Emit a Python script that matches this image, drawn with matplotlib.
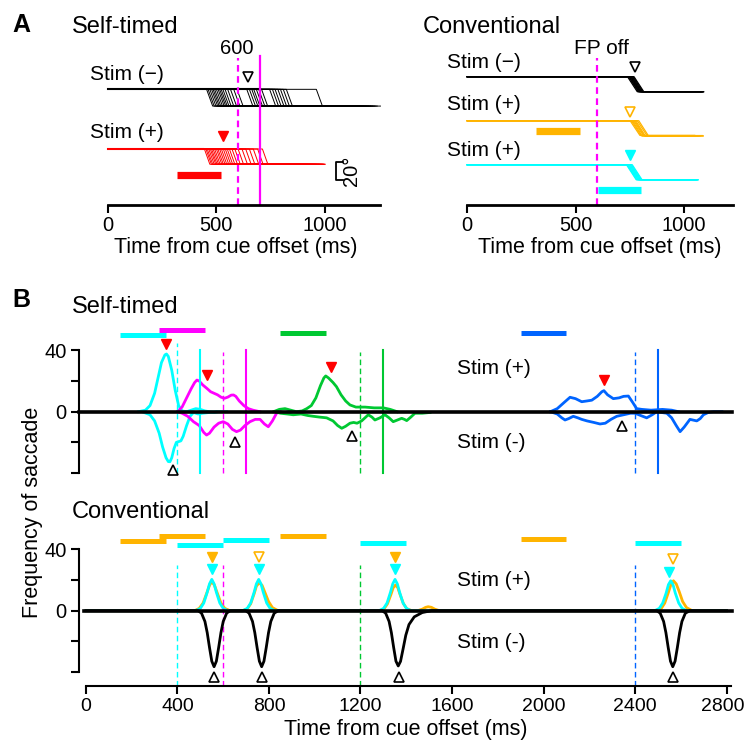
import matplotlib
matplotlib.use("Agg")
import matplotlib.pyplot as plt
from matplotlib.transforms import ScaledTranslation

plt.rcParams['font.family'] = ['Liberation Sans', 'DejaVu Sans']

CYAN = '#00FFFF'
MAG = '#FF00FF'
GREEN = '#00C832'
BLUE = '#0064FF'
ORANGE = '#FFB400'
RED = '#FF0000'

# ---------------- panel A data (saccade onsets / trace ends, ms) ----------------
blk_self_on = [455, 462, 470, 478, 485, 492, 500, 508, 515, 522, 530, 540, 552, 565, 580, 595,
               640, 652, 663, 672, 684, 695, 708, 745, 758, 770, 783, 795, 808, 822, 960]
blk_self_end = [1080, 1100, 1090, 1110, 1120, 1095, 1105, 1115, 1100, 1125, 1110, 1090, 1130, 1115, 1120, 1105,
                1140, 1150, 1125, 1160, 1135, 1145, 1170, 1180, 1200, 1190, 1210, 1220, 1230, 1240, 1255]
red_self_on = [445, 452, 458, 465, 472, 478, 485, 492, 500, 507, 515, 523, 532, 541, 550, 560,
               572, 585, 600, 618, 635, 652, 670, 690, 712]
red_self_end = [820, 840, 860, 835, 880, 900, 870, 910, 930, 890, 950, 920, 960, 940, 975, 985,
                955, 995, 970, 990, 1000, 980, 995, 1000, 990]

blk_conv_on = [740, 745, 748, 752, 755, 758, 762, 766, 770]
blk_conv_end = [1080, 1085, 1090, 1078, 1088, 1092, 1085, 1090, 1083]
org_conv_on = [752, 758, 763, 768, 773, 778, 785, 792]
org_conv_end = [1050, 1060, 1075, 1085, 1090, 1065, 1080, 1088]
org_conv_amp = [16.0, 16.4, 16.8, 16.2, 16.6, 17.0, 16.3, 16.7]
cyn_conv_on = [735, 738, 742, 746, 750, 754, 758, 762]
cyn_conv_end = [1055, 1060, 1065, 1058, 1062, 1066, 1060, 1064]

# ---------------- panel B data: self-timed (frequency of saccade) ----------------
st_cyan_pos_t = [230, 260, 280, 300, 315, 330, 345, 352, 360, 375, 390, 405, 420, 440, 460, 480, 500, 520, 540, 560, 580, 615]
st_cyan_pos_y = [0, 1, 4, 12, 22, 32, 37, 37.6, 36, 27, 14, 4, 0.5, 0, 1, 2, 1.5, 0.5, 0, -0.5, 0, 0]
st_cyan_neg_t = [245, 280, 300, 320, 335, 350, 360, 367, 375, 385, 395, 405, 415, 425, 440, 455, 470, 490, 510, 540, 570]
st_cyan_neg_y = [0, -2, -6, -14, -23, -30, -32.5, -32.6, -30, -24, -20, -19.5, -19, -16, -9, -3, -0.5, -1.5, -1, -0.5, 0]

st_mag_pos_t = [400, 420, 440, 460, 475, 485, 495, 510, 530, 545, 560, 575, 590, 605, 620, 635, 645, 655, 670, 690, 710, 730, 760]
st_mag_pos_y = [0, 3, 9, 15, 19, 20.6, 20, 17.5, 15, 13, 12, 11, 9.5, 8.7, 9.5, 10.8, 10.9, 10, 7, 4, 2, 1, 0]
st_mag_neg_t = [400, 420, 445, 470, 495, 515, 527, 540, 560, 580, 600, 620, 640, 658, 675, 695, 717, 740, 761, 780, 797, 815, 833, 850]
st_mag_neg_y = [0, -1, -3, -6.5, -9, -13.5, -15.2, -14, -10, -7.5, -6.5, -8, -11.5, -13, -12, -9, -6.5, -5, -5, -8, -9.8, -6, -1, 0]

st_grn_pos_t = [820, 845, 870, 895, 920, 945, 965, 985, 1005, 1025, 1040, 1048, 1060, 1080, 1095, 1115, 1135, 1154, 1180, 1220, 1260, 1300, 1330, 1360]
st_grn_pos_y = [0, 1.5, 2, 1, 0, 0.5, 2, 4, 9, 17, 22, 23.3, 22, 19, 16.3, 11, 7, 4.4, 3, 3, 2.5, 2.5, 1.5, 0]
st_grn_neg_t = [826, 850, 880, 906, 940, 970, 994, 1020, 1052, 1080, 1100, 1118, 1135, 1154, 1170, 1185, 1205, 1234,
                1250, 1263, 1285, 1307, 1325, 1343, 1360, 1380, 1392, 1402, 1420, 1438, 1470, 1504]
st_grn_neg_y = [0, -1, -1.5, -2, -1.5, -2.5, -3, -3.5, -4, -6, -9, -10.8, -9.5, -7.5, -7, -7.5, -6, -2,
                -3.5, -5.4, -4, -2, -4, -6.5, -5.5, -4.3, -5, -5.8, -3.5, -1, -1, -0.5]

st_blu_pos_t = [2030, 2060, 2090, 2116, 2140, 2167, 2190, 2211, 2235, 2255, 2264, 2280, 2305, 2330, 2350, 2371, 2390, 2407, 2430, 2470, 2520, 2560, 2590]
st_blu_pos_y = [0, 2, 6, 9.4, 8.5, 6.5, 7, 7.5, 10, 13, 13.7, 11, 8.5, 9, 10, 10.2, 6, 2, 1.5, 1, 1.5, 1, 0]
st_blu_neg_t = [2030, 2060, 2080, 2094, 2110, 2130, 2150, 2167, 2190, 2220, 2247, 2270, 2295, 2320, 2350, 2380, 2400, 2425,
                2451, 2475, 2495, 2515, 2539, 2560, 2580, 2597, 2615, 2640, 2655, 2670, 2685, 2699, 2720, 2743, 2780]
st_blu_neg_y = [0, -1.5, -4, -5.4, -4.5, -3, -4, -5, -6, -7, -8, -7.5, -5, -3, -2, -1, -1, -2.5,
                -4, -2, 0, -0.5, -1, -4, -9, -13, -10, -5, -5.5, -6, -4.5, -2, -0.5, 0, 0]

# ---------------- panel B data: conventional ----------------
cv_cyan_t = [0, 480, 500, 515, 530, 540, 550, 560, 570, 585, 600, 620,
             685, 705, 720, 735, 745, 755, 765, 775, 790, 805, 825,
             1281, 1301, 1316, 1331, 1341, 1351, 1361, 1371, 1386, 1401, 1421,
             2486, 2506, 2521, 2536, 2546, 2556, 2566, 2576, 2591, 2606, 2626, 2800]
cv_cyan_y = [0, 0, 1.5, 5, 12, 17.5, 20.4, 17.5, 12, 5, 1.5, 0,
             0, 1.5, 5, 12, 17.5, 20.4, 17.5, 12, 5, 1.5, 0,
             0, 1.5, 5, 12, 17.5, 20.4, 17.5, 12, 5, 1.5, 0,
             0, 1.5, 5, 11.5, 17, 19.5, 17, 11.5, 5, 1.5, 0, 0]
cv_org_t = [0, 475, 495, 512, 528, 540, 550, 562, 574, 590, 607, 630,
            685, 705, 720, 735, 745, 757, 770, 782, 798, 815, 840,
            1285, 1303, 1318, 1333, 1343, 1353, 1363, 1373, 1388, 1403, 1425,
            1450, 1470, 1485, 1496, 1510, 1525, 1545,
            2495, 2515, 2530, 2545, 2557, 2568, 2580, 2593, 2608, 2625, 2650, 2800]
cv_org_y = [0, 0, 1.5, 5, 11.5, 16.5, 19, 16.5, 11.5, 5, 1.5, 0,
            0, 1.2, 4.5, 11, 16, 18.2, 16.5, 12, 6, 2, 0,
            0, 1.2, 4.5, 10.5, 15, 16.7, 15, 10.5, 4.5, 1.2, 0,
            0, 1, 2.2, 2.6, 2.2, 1, 0,
            0, 1.5, 5, 11.5, 17, 19.5, 17.5, 12.5, 6, 2, 0, 0]
cv_blk_t = [0, 490, 505, 520, 530, 540, 550, 560, 570, 580, 590, 600, 615, 630,
            698, 713, 728, 738, 748, 758, 768, 778, 788, 798, 808, 823, 840,
            1295, 1310, 1325, 1335, 1345, 1355, 1365, 1375, 1386, 1398, 1412, 1435, 1470, 1510,
            2495, 2510, 2525, 2535, 2545, 2555, 2565, 2575, 2585, 2595, 2605, 2620, 2640, 2800]
cv_blk_y = [0, 0, -1.6, -7, -14.3, -24, -32.9, -36.5, -32.9, -24, -14.3, -7, -1.6, 0,
            0, -1.6, -7, -14.3, -24, -32.9, -36.5, -32.9, -24, -14.3, -7, -1.6, 0,
            0, -1.6, -7, -14.3, -24, -32.9, -36, -33, -25, -16, -9, -4, -1.2, 0,
            0, -1.6, -7, -14.3, -24, -32.9, -36.5, -32.9, -24, -14.3, -7, -1.6, 0, 0]

# ---------------- figure helpers (pixel layout) ----------------
W, H = 746, 740
fig = plt.figure(figsize=(W / 100, H / 100), dpi=100)


def add_ax(l, t, r, b):
    return fig.add_axes([l / W, 1 - b / H, (r - l) / W, (b - t) / H])


def ftext(x, y, s, **kw):
    kw.setdefault('va', 'center')
    fig.text(x / W, 1 - y / H, s, **kw)


def style_a(ax, right_bound):
    for s in ['top', 'right', 'left']:
        ax.spines[s].set_visible(False)
    ax.spines['bottom'].set_linewidth(2)
    ax.spines['bottom'].set_bounds(0, right_bound)
    ax.set_xticks([0, 500, 1000])
    ax.set_yticks([])
    ax.tick_params(axis='x', length=6, width=1.5, labelsize=14.5, pad=2)
    ax.set_ylim(0, 180.3)


def traces(ax, onsets, ends, base, amp, color, dur, lw):
    for i, (on, end) in enumerate(zip(onsets, ends)):
        a = amp[i] if isinstance(amp, list) else amp
        ax.plot([0, on, on + dur, end], [base, base, base - a, base - a],
                color=color, lw=lw)


# ---------------- panel A, self-timed ----------------
axL = add_ax(99.0, 40, 383.7, 205)
axL.set_xlim(-40, 1270)
style_a(axL, 1255)
traces(axL, blk_self_on, blk_self_end, 126.4, 18.3, 'black', 28, 0.7)
traces(axL, red_self_on, red_self_end, 61.2, 16.7, RED, 25, 0.7)
axL.plot([0, 700], [126.4, 126.4], color='black', lw=1.5)
axL.plot([0, 440], [61.2, 61.2], color=RED, lw=1.5)
axL.plot([600, 600], [0, 160.7], color=MAG, lw=1.6, ls=(0, (3, 2)))
axL.plot([700, 700], [0, 162.8], color=MAG, lw=1.6)
axL.plot([317, 520], [32.8, 32.8], color=RED, lw=5.2, solid_capstyle='butt')
axL.plot([646], [139.9], marker='v', ms=7, mfc='none', mec='black', mew=1.2)
axL.plot([531], [75.4], marker='v', ms=7, color=RED)
axL.plot([1083, 1051, 1051, 1083], [47.3, 47.3, 27.3, 27.3], color='black', lw=1.3, clip_on=False)
axL.text(1122, 37.3, '20°', rotation=90, ha='center', va='center', fontsize=14.5)

# ---------------- panel A, conventional ----------------
axR = add_ax(458.6, 40, 742.3, 205)
axR.set_xlim(-40, 1270)
style_a(axR, 1225)
traces(axR, blk_conv_on, blk_conv_end, 140.2, 16.4, 'black', 45, 0.9)
traces(axR, org_conv_on, org_conv_end, 92.1, org_conv_amp, ORANGE, 45, 0.9)
traces(axR, cyn_conv_on, cyn_conv_end, 44.0, 16.4, CYAN, 45, 0.9)
axR.plot([600, 600], [0, 160.7], color=MAG, lw=1.6, ls=(0, (3, 2)))
axR.plot([316, 519], [80.9, 80.9], color=ORANGE, lw=5.2, solid_capstyle='butt')
axR.plot([602, 801], [16.4, 16.4], color=CYAN, lw=5.2, solid_capstyle='butt')
axR.plot([773], [151.1], marker='v', ms=7, mfc='none', mec='black', mew=1.2)
axR.plot([753], [102.0], marker='v', ms=7, mfc='none', mec=ORANGE, mew=1.2)
axR.plot([750], [54.6], marker='v', ms=7, color=CYAN)

# ---------------- panel B ----------------
S = 1.535  # px per unit


def style_b(ax, ymin, ymax, bottom):
    ax.set_xlim(-30, 2830)
    ax.set_ylim(ymin, ymax)
    for s in ['top', 'right']:
        ax.spines[s].set_visible(False)
    ax.spines['left'].set_bounds(-40, 40)
    ax.spines['left'].set_linewidth(1.5)
    ax.set_yticks([-40, -20, 0, 20, 40])
    ax.set_yticklabels(['', '', '0', '', '40'])
    ax.tick_params(axis='y', length=6, width=1.5, labelsize=14.5, pad=3)
    if bottom:
        ax.spines['bottom'].set_bounds(0, 2820)
        ax.spines['bottom'].set_linewidth(1.5)
        ax.set_xticks(range(0, 2801, 400))
        ax.tick_params(axis='x', length=6, width=1.5, labelsize=14, pad=3)
    else:
        ax.spines['bottom'].set_visible(False)
        ax.set_xticks([])


def add_b(z0, ymin, ymax):
    return add_ax(79.1, z0 - ymax * S, 733.4, z0 - ymin * S)


axT = add_b(411.7, -42, 58)
style_b(axT, -42, 58, False)
lw_c = 2.0
for t, y, c in [(st_cyan_pos_t, st_cyan_pos_y, CYAN), (st_cyan_neg_t, st_cyan_neg_y, CYAN),
                (st_mag_pos_t, st_mag_pos_y, MAG), (st_mag_neg_t, st_mag_neg_y, MAG),
                (st_grn_pos_t, st_grn_pos_y, GREEN), (st_grn_neg_t, st_grn_neg_y, GREEN),
                (st_blu_pos_t, st_blu_pos_y, BLUE), (st_blu_neg_t, st_blu_neg_y, BLUE)]:
    axT.plot(t, y, color=c, lw=lw_c, solid_joinstyle='round')
axT.plot([-30, 2825], [0, 0], color='black', lw=2.6, clip_on=False, zorder=3)

st_vlines = [(400, CYAN, True, 45), (500, CYAN, False, 40), (600, MAG, True, 39), (700, MAG, False, 40),
             (1200, GREEN, True, 39), (1300, GREEN, False, 40), (2400, BLUE, True, 39), (2500, BLUE, False, 40)]
for x, c, dashed, top in st_vlines:
    if dashed:
        axT.plot([x, x], [-40, top], color=c, lw=1.0, ls=(0, (4, 2.5)))
    else:
        axT.plot([x, x], [-40, top], color=c, lw=1.5)

st_bars = [(150, 350, 50, CYAN), (320, 520, 53, MAG), (850, 1050, 51, GREEN), (1900, 2100, 51, BLUE)]
for x0, x1, y, c in st_bars:
    axT.plot([x0, x1], [y, y], color=c, lw=3.6, solid_capstyle='butt', clip_on=False)

axT.plot([350, 530, 1070, 2264], [44, 24, 29.3, 20.6], ls='none', marker='v', ms=7, color=RED, zorder=4)
axT.plot([379, 652, 1162, 2342], [-38, -20, -15.8, -9.1], ls='none', marker='^', ms=7,
         mfc='white', mec='black', mew=1.2, zorder=4)

axC = add_b(610.7, -49, 58)
style_b(axC, -49, 58, True)
last = axC.get_xticklabels()[-1]
last.set_transform(last.get_transform() + ScaledTranslation(-0.04, 0, fig.dpi_scale_trans))
axC.plot(cv_org_t, cv_org_y, color=ORANGE, lw=lw_c)
axC.plot(cv_cyan_t, cv_cyan_y, color=CYAN, lw=lw_c)
axC.plot([-10, 2825], [0, 0], color='black', lw=2.6, clip_on=False, zorder=3)
axC.plot(cv_blk_t, cv_blk_y, color='black', lw=lw_c, zorder=3)

for x, c in [(400, CYAN), (600, MAG), (1200, GREEN), (2400, BLUE)]:
    axC.plot([x, x], [-49, 30], color=c, lw=1.0, ls=(0, (4, 2.5)))

cv_bars = [(150, 350, 45.4, ORANGE), (320, 520, 48.7, ORANGE), (400, 600, 42.8, CYAN), (600, 800, 46, CYAN),
           (850, 1050, 48.7, ORANGE), (1200, 1400, 43.9, CYAN), (1900, 2100, 46.5, ORANGE), (2400, 2600, 43.9, CYAN)]
for x0, x1, y, c in cv_bars:
    axC.plot([x0, x1], [y, y], color=c, lw=3.6, solid_capstyle='butt', clip_on=False)

axC.plot([550, 1351], [35, 35], ls='none', marker='v', ms=7, color=ORANGE, zorder=4)
axC.plot([755, 2568], [35, 33.5], ls='none', marker='v', ms=7, mfc='white', mec=ORANGE, mew=1.2, zorder=4)
axC.plot([550, 755, 1351, 2550], [27, 27, 27, 25.4], ls='none', marker='v', ms=7, color=CYAN, zorder=4)
axC.plot([561, 771, 1368, 2565], [-43, -43, -43, -43], ls='none', marker='^', ms=7,
         mfc='white', mec='black', mew=1.2, zorder=4)

# ---------------- texts ----------------
ftext(12, 25, 'A', fontsize=18, fontweight='bold')
ftext(72, 27, 'Self-timed', fontsize=17)
ftext(237, 49, '600', fontsize=14.5, ha='center')
ftext(90, 74, 'Stim (\u2212)', fontsize=15)
ftext(90, 133, 'Stim (+)', fontsize=15)
ftext(236, 247, 'Time from cue offset (ms)', fontsize=15.5, ha='center')

ftext(423, 27, 'Conventional', fontsize=17)
ftext(601, 48, 'FP off', fontsize=15, ha='center')
ftext(447, 62, 'Stim (\u2212)', fontsize=15)
ftext(447, 105, 'Stim (+)', fontsize=15)
ftext(447, 150, 'Stim (+)', fontsize=15)
ftext(600, 247, 'Time from cue offset (ms)', fontsize=15.5, ha='center')

ftext(12, 300, 'B', fontsize=18, fontweight='bold')
ftext(72, 307, 'Self-timed', fontsize=17)
ftext(457, 369, 'Stim (+)', fontsize=15)
ftext(457, 443, 'Stim (-)', fontsize=15)
ftext(72, 512, 'Conventional', fontsize=17)
ftext(457, 580, 'Stim (+)', fontsize=15)
ftext(457, 643, 'Stim (-)', fontsize=15)
ftext(33, 512, 'Frequency of saccade', fontsize=15.5, rotation=90, ha='center')
ftext(406, 730, 'Time from cue offset (ms)', fontsize=15.5, ha='center')

fig.savefig('out.png', dpi=100)
